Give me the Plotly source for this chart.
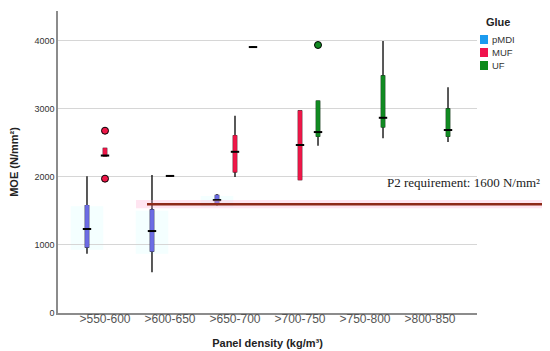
import plotly.graph_objects as go

# ---------------- data ----------------
categories = [">550-600", ">600-650", ">650-700", ">700-750", ">750-800", ">800-850"]
glues = ["pMDI", "MUF", "UF"]

pmdi_cats = [0, 1, 2]
pmdi_lower = [870, 600, 1580]
pmdi_q1 = [970, 910, 1600]
pmdi_med = [1235, 1205, 1660]
pmdi_q3 = [1580, 1515, 1730]
pmdi_upper = [2010, 2030, 1750]
pmdi_out_cats = []
pmdi_out_vals = []

muf_cats = [0, 1, 2, 3]
muf_lower = [2310, 2015, 2000, 1960]
muf_q1 = [2310, 2015, 2075, 1960]
muf_med = [2315, 2015, 2370, 2470]
muf_q3 = [2420, 2015, 2605, 2970]
muf_upper = [2420, 2015, 2900, 2970]
muf_out_cats = [0, 0]
muf_out_vals = [2680, 1975]

uf_cats = [2, 3, 4, 5]
uf_lower = [3910, 2460, 2570, 2515]
uf_q1 = [3910, 2600, 2735, 2600]
uf_med = [3910, 2660, 2870, 2690]
uf_q3 = [3910, 3115, 3485, 3000]
uf_upper = [3910, 3115, 4000, 3320]
uf_out_cats = [3]
uf_out_vals = [3940]

requirement = 1600
y_ticks = [0, 1000, 2000, 3000, 4000]

# ---------------- styles ----------------
box_colors = {"pMDI": "#6C6CE4", "MUF": "#EE1748", "UF": "#118A22"}
legend_colors = {"pMDI": "#1C9BEF", "MUF": "#F0134D", "UF": "#0C8A1A"}
offsets = {"pMDI": -0.277, "MUF": 0.0, "UF": 0.277}
BW = 0.05
FONT = "Liberation Sans, Arial, sans-serif"

series = {
    "pMDI": (pmdi_cats, pmdi_lower, pmdi_q1, pmdi_med, pmdi_q3, pmdi_upper, pmdi_out_cats, pmdi_out_vals),
    "MUF": (muf_cats, muf_lower, muf_q1, muf_med, muf_q3, muf_upper, muf_out_cats, muf_out_vals),
    "UF": (uf_cats, uf_lower, uf_q1, uf_med, uf_q3, uf_upper, uf_out_cats, uf_out_vals),
}

fig = go.Figure()
shapes = []

for g in glues:
    cats, lo, q1, med, q3, up, oc, ov = series[g]
    pos = [c + offsets[g] for c in cats]
    col = box_colors[g]
    if g == "pMDI":
        for p, a, b in zip(pos, q1, q3):
            shapes.append(dict(type="rect", xref="x", yref="y", layer="below",
                               x0=p - 0.25, x1=p + 0.25, y0=a - 40, y1=b - 10,
                               fillcolor="rgba(210,255,255,0.25)", line=dict(width=0)))
    # whiskers (black)
    fig.add_trace(go.Box(x=pos, q1=q1, median=med, q3=q3, lowerfence=lo, upperfence=up,
                         width=BW, whiskerwidth=0, boxpoints=False,
                         line=dict(color="black", width=1.3), fillcolor="black",
                         showlegend=False, hoverinfo="skip"))
    # coloured IQR
    fig.add_trace(go.Box(x=pos, q1=q1, median=med, q3=q3, lowerfence=q1, upperfence=q3,
                         width=BW, whiskerwidth=0, boxpoints=False,
                         line=dict(color=col, width=1), fillcolor=col,
                         showlegend=False, name=g))
    # medians
    fig.add_trace(go.Scatter(x=pos, y=med, mode="markers",
                             marker=dict(symbol="line-ew", size=6,
                                         line=dict(color="black", width=2)),
                             showlegend=False, hoverinfo="skip"))
    # outliers
    if ov:
        fig.add_trace(go.Scatter(x=[c + offsets[g] for c in oc], y=ov, mode="markers",
                                 marker=dict(symbol="circle", size=7, color=col,
                                             line=dict(color="black", width=1)),
                                 showlegend=False))

# plot area in px
L, R, T, B = 50, 469, 3, 305
def px_x(x):
    return (x - L) / (R - L)
def px_y(y):
    return (B - y) / (B - T)

# requirement line with halo
shapes.append(dict(type="rect", xref="paper", yref="y", x0=px_x(128), x1=px_x(546),
                   y0=requirement - 60, y1=requirement + 60,
                   fillcolor="rgba(255,170,210,0.3)", line=dict(width=0), layer="above"))
shapes.append(dict(type="line", xref="paper", yref="y", x0=px_x(139), x1=px_x(546),
                   y0=requirement, y1=requirement,
                   line=dict(color="#8E2A18", width=2.5), layer="above"))

annotations = [dict(text="P2 requirement: 1600 N/mm²", xref="paper", yref="y",
                    x=px_x(377), y=requirement, yshift=22, xanchor="left", yanchor="middle",
                    showarrow=False, font=dict(family="Liberation Serif, Times New Roman, serif",
                                               size=13, color="#222"))]

# manual legend
annotations.append(dict(text="<b>Glue</b>", xref="paper", yref="paper", x=px_x(476), y=px_y(14),
                        xanchor="left", yanchor="middle", showarrow=False,
                        font=dict(family=FONT, size=11, color="#222")))
for i, g in enumerate(glues):
    cy = 31.5 + i * 13
    shapes.append(dict(type="rect", xref="paper", yref="paper",
                       x0=px_x(472), x1=px_x(480), y0=px_y(cy - 4.5), y1=px_y(cy + 4.5),
                       fillcolor=legend_colors[g], line=dict(width=0)))
    annotations.append(dict(text=g, xref="paper", yref="paper", x=px_x(482), y=px_y(cy),
                            xanchor="left", yanchor="middle", showarrow=False,
                            font=dict(family=FONT, size=9.5, color="#333")))

fig.update_layout(
    width=550, height=351,
    margin=dict(l=L, r=550 - R, t=T, b=351 - B),
    plot_bgcolor="white", paper_bgcolor="white",
    showlegend=False,
    shapes=shapes, annotations=annotations,
    font=dict(family=FONT),
    xaxis=dict(range=[-0.723, 5.723], tickvals=list(range(len(categories))), ticktext=categories,
               showgrid=False, zeroline=False, showline=True, linecolor="#8C8C8C", linewidth=1.5,
               ticks="", ticklen=0, ticklabelstandoff=-6, tickfont=dict(size=12, color="#555"),
               title=dict(text="<b>Panel density (kg/m³)</b>", font=dict(size=11, color="#222"),
                          standoff=14)),
    yaxis=dict(range=[0, 4440], tickvals=y_ticks, showgrid=True, gridcolor="#D6D6D6", gridwidth=1.2,
               zeroline=False, showline=True, linecolor="#8C8C8C", linewidth=1.5,
               ticks="", ticklen=0, tickfont=dict(size=9, color="#333"),
               title=dict(text="<b>MOE (N/mm²)</b>", font=dict(size=11, color="#222"), standoff=14)),
)

fig.write_html("out.html")
